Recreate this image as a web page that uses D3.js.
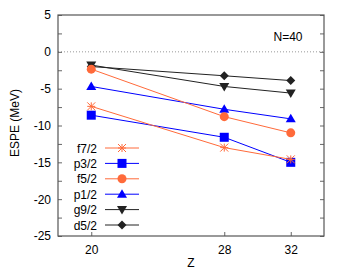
<!DOCTYPE html>
<html>
<head>
<meta charset="utf-8">
<script src="https://cdn.jsdelivr.net/npm/d3@7"></script>
<style>
body { margin: 0; background: #fff; }
text { font-family: "Liberation Sans", Arial, sans-serif; font-size: 12px; fill: #000; }
</style>
</head>
<body>
<div class="render"></div>
<script>
"use strict";

var width = 347;
var height = 275;

var zValues = [20, 28, 32];
var f72 = [-7.4, -13.0, -14.6];
var p32 = [-8.6, -11.6, -15.0];
var f52 = [-2.35, -8.8, -11.0];
var p12 = [-4.7, -7.8, -9.1];
var g92 = [-1.8, -4.7, -5.6];
var d52 = [-2.0, -3.25, -3.9];
var yTicks = [5, 0, -5, -10, -15, -20, -25];

var series = [
   { name: 'f7/2', values: f72, color: '#ff6a3a', symbol: 'star' },
   { name: 'p3/2', values: p32, color: '#0000ff', symbol: 'square' },
   { name: 'f5/2', values: f52, color: '#ff6a3a', symbol: 'circle' },
   { name: 'p1/2', values: p12, color: '#0000ff', symbol: 'triangle' },
   { name: 'g9/2', values: g92, color: '#222', symbol: 'down' },
   { name: 'd5/2', values: d52, color: '#222', symbol: 'diamond' }
];

var margin = { left: 58, top: 15, right: 23, bottom: 39 };

var x = d3.scaleLinear().domain([18, 34]).range([margin.left, width - margin.right]);
var y = d3.scaleLinear().domain([-25, 5]).range([height - margin.bottom, margin.top]);

var svg = d3.select('.render').append('svg').attr('width', width).attr('height', height);

// zero line
svg.append('line').attr('x1', x(18)).attr('x2', x(34)).attr('y1', y(0)).attr('y2', y(0))
   .attr('stroke', '#999').attr('stroke-width', 1).attr('stroke-dasharray', '1,2');

// axes
var minor = d3.range(-25, 5.1, 2.5);
svg.append('g').attr('transform', 'translate(' + margin.left + ',0)')
   .call(d3.axisLeft(y).tickValues(minor).tickSize(-4).tickFormat(function (d) {
      return yTicks.indexOf(d) >= 0 ? d : '';
   }))
   .call(function (g) {
      g.select('.domain').remove();
      g.selectAll('.tick line').attr('stroke', '#666');
      g.selectAll('.tick text').attr('x', -7).style('font-size', '12px');
   });
svg.append('g').attr('transform', 'translate(' + (width - margin.right) + ',0)')
   .call(d3.axisRight(y).tickValues(minor).tickSize(-4).tickFormat(''))
   .call(function (g) {
      g.select('.domain').remove();
      g.selectAll('.tick line').attr('stroke', '#666');
   });
svg.append('g').attr('transform', 'translate(0,' + (height - margin.bottom) + ')')
   .call(d3.axisBottom(x).tickValues(zValues).tickSize(-4))
   .call(function (g) {
      g.select('.domain').remove();
      g.selectAll('.tick line').attr('stroke', '#666');
      g.selectAll('.tick text').attr('y', 9).style('font-size', '12px');
   });

svg.append('rect').attr('x', x(18)).attr('y', y(5))
   .attr('width', x(34) - x(18)).attr('height', y(-25) - y(5))
   .attr('fill', 'none').attr('stroke', '#555').attr('stroke-width', 1.2);

// titles
svg.append('text').attr('x', x(26)).attr('y', 267).attr('text-anchor', 'middle').text('Z');
svg.append('text').attr('transform', 'translate(19,123) rotate(-90)')
   .attr('text-anchor', 'middle').text('ESPE (MeV)');
svg.append('text').attr('x', 288).attr('y', 41).attr('text-anchor', 'middle').text('N=40');

function drawSymbol(g, type, cx, cy, color) {
   if (type === 'star') {
      var s = 4;
      [[-s, 0, s, 0], [0, -s, 0, s], [-s, -s, s, s], [-s, s, s, -s]].forEach(function (l) {
         g.append('line').attr('x1', cx + l[0]).attr('y1', cy + l[1]).attr('x2', cx + l[2]).attr('y2', cy + l[3])
            .attr('stroke', color).attr('stroke-width', 1);
      });
   } else if (type === 'square') {
      g.append('rect').attr('x', cx - 4.5).attr('y', cy - 4.5).attr('width', 9).attr('height', 9).attr('fill', color);
   } else if (type === 'circle') {
      g.append('circle').attr('cx', cx).attr('cy', cy).attr('r', 4.5).attr('fill', color);
   } else if (type === 'triangle') {
      g.append('path').attr('d', 'M' + cx + ',' + (cy - 5) + 'L' + (cx + 5) + ',' + (cy + 3.5) + 'L' + (cx - 5) + ',' + (cy + 3.5) + 'Z').attr('fill', color);
   } else if (type === 'down') {
      g.append('path').attr('d', 'M' + cx + ',' + (cy + 5) + 'L' + (cx + 5) + ',' + (cy - 3.5) + 'L' + (cx - 5) + ',' + (cy - 3.5) + 'Z').attr('fill', color);
   } else if (type === 'diamond') {
      g.append('path').attr('d', 'M' + cx + ',' + (cy - 4.5) + 'L' + (cx + 4.5) + ',' + cy + 'L' + cx + ',' + (cy + 4.5) + 'L' + (cx - 4.5) + ',' + cy + 'Z').attr('fill', color);
   }
}

var line = d3.line().x(function (d) { return x(d[0]); }).y(function (d) { return y(d[1]); });

series.slice().reverse().forEach(function (s) {
   var pts = zValues.map(function (z, i) { return [z, s.values[i]]; });
   var g = svg.append('g');
   g.append('path').attr('d', line(pts)).attr('fill', 'none').attr('stroke', s.color).attr('stroke-width', 1);
   pts.forEach(function (p) { drawSymbol(g, s.symbol, x(p[0]), y(p[1]), s.color); });
});

// legend
series.forEach(function (s, i) {
   var ly = 148 + i * 15.4;
   var g = svg.append('g');
   g.append('text').attr('x', 97).attr('y', ly + 4.5).attr('text-anchor', 'end').text(s.name);
   g.append('line').attr('x1', 105).attr('x2', 139).attr('y1', ly).attr('y2', ly)
      .attr('stroke', s.color).attr('stroke-width', 1);
   drawSymbol(g, s.symbol, 122, ly, s.color);
});
</script>
</body>
</html>
